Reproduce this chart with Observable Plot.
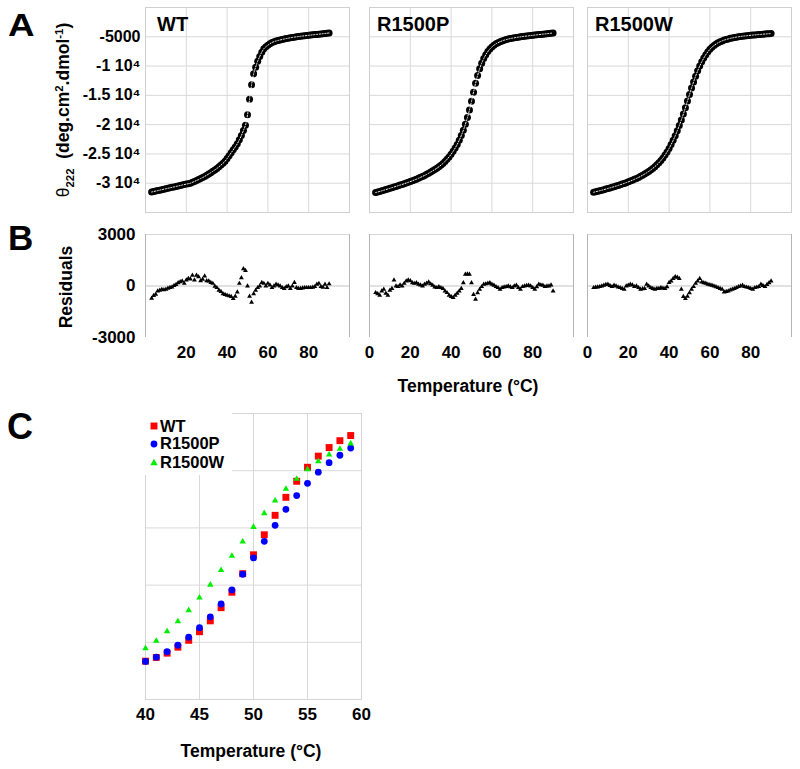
<!DOCTYPE html>
<html><head><meta charset="utf-8">
<script src="https://cdn.jsdelivr.net/npm/d3@7"></script>
<script src="https://cdn.jsdelivr.net/npm/@observablehq/plot@0.6"></script>
<style>
body{margin:0;background:#fff;font-family:"Liberation Sans",Arial,sans-serif;}
#wrap{position:relative;width:800px;height:769px;overflow:hidden;background:#fff}
.t{position:absolute;font-weight:bold;color:#000;white-space:nowrap;line-height:1}
svg text{font-weight:bold}
</style></head><body><div id="wrap"></div>
<script>
// ---------- DATA ----------
const panelNames = ["WT", "R1500P", "R1500W"];
const temps = [3,4,5,6,7,8,9,10,11,12,13,14,15,16,17,18,19,20,21,22,23,24,25,26,27,28,29,30,31,32,33,34,35,36,37,38,39,40,41,42,43,44,45,46,47,48,49,50,51,52,53,54,55,56,57,58,59,60,61,62,63,64,65,66,67,68,69,70,71,72,73,74,75,76,77,78,79,80,81,82,83,84,85,86,87,88,89,90];

// theta222 (deg.cm2.dmol-1), panel A
const thetaWT = [
 -31500,-31420,-31340,-31260,-31180,-31100,-31020,-30950,-30870,-30790,
 -30710,-30630,-30550,-30470,-30390,-30310,-30230,-30150,-30080,-30000,
 -29850,-29700,-29540,-29380,-29210,-29030,-28840,-28640,-28420,-28200,
 -27970,-27730,-27480,-27200,-26900,-26600,-26250,-25800,-25300,-24800,
 -24300,-23800,-23270,-22600,-21850,-21000,-20090,-18320,-15650,-13200,
 -11320,-10190,-9160,-8360,-7620,-7050,-6700,-6430,-6180,-5975,
 -5830,-5720,-5630,-5540,-5460,-5380,-5310,-5230,-5170,-5110,
 -5060,-5010,-4960,-4910,-4870,-4830,-4790,-4750,-4710,-4670,
 -4630,-4590,-4550,-4510,-4470,-4430,-4390,-4350];
const thetaP = [
 -31600,-31500,-31400,-31300,-31200,-31090,-30980,-30870,-30760,-30650,
 -30540,-30430,-30320,-30210,-30090,-29970,-29850,-29720,-29590,-29450,
 -29310,-29160,-29000,-28840,-28670,-28490,-28300,-28100,-27890,-27670,
 -27440,-27190,-26920,-26620,-26290,-25920,-25510,-25060,-24560,-24000,
 -23370,-22660,-21860,-20960,-19940,-18800,-17500,-16000,-14450,-12950,
 -11600,-10450,-9500,-8720,-8070,-7530,-7090,-6730,-6440,-6200,
 -6000,-5840,-5700,-5580,-5480,-5390,-5310,-5240,-5180,-5120,
 -5060,-5010,-4960,-4910,-4870,-4830,-4790,-4750,-4710,-4670,
 -4630,-4590,-4550,-4510,-4470,-4430,-4390,-4350];
const thetaW = [
 -31550,-31460,-31370,-31280,-31190,-31100,-31000,-30900,-30800,-30700,
 -30600,-30490,-30380,-30270,-30150,-30030,-29900,-29770,-29630,-29490,
 -29340,-29180,-29010,-28830,-28640,-28440,-28220,-27990,-27740,-27470,
 -27180,-26860,-26510,-26120,-25690,-25200,-24660,-24060,-23400,-22680,
 -21900,-21060,-20160,-19200,-18180,-17100,-15980,-14850,-13750,-12700,
 -11720,-10820,-10000,-9270,-8620,-8050,-7560,-7140,-6790,-6490,
 -6240,-6030,-5850,-5700,-5570,-5460,-5360,-5270,-5190,-5120,
 -5060,-5000,-4950,-4900,-4860,-4820,-4780,-4740,-4710,-4680,
 -4650,-4620,-4590,-4560,-4530,-4500,-4480,-4460];

// residuals, panel B
const resWT = [
 -720,-560,-480,-300,-250,-200,-220,-190,-140,-90,
 -60,20,80,190,240,290,150,350,430,400,
 620,350,620,540,300,390,580,300,290,200,
 150,-20,-100,-250,-330,-450,-500,-540,-580,-620,
 -740,-600,-350,150,480,1000,900,0,-600,-950,
 -450,-250,-100,0,200,150,0,150,50,-100,
 0,100,50,0,-100,-150,-50,0,-150,0,
 200,-100,-150,-150,-120,-100,-100,-100,-100,-80,
 -40,100,150,-40,-80,100,-100,120];
const resP = [
 -390,-450,-540,-300,-190,-430,-540,-250,-155,350,
 0,-40,60,0,150,290,350,300,190,150,
 190,100,50,0,100,155,230,120,40,-60,
 -100,-40,-100,-155,-300,-390,-540,-620,-680,-540,
 -430,-300,-155,190,680,700,680,190,-500,-780,
 -400,-200,-40,100,120,155,190,100,40,-40,
 -100,-190,-100,-60,-40,0,-50,-100,0,40,
 -100,-190,-40,0,20,40,0,-100,-190,-50,
 100,60,40,-40,0,0,50,-290];
const resW = [
 -100,-80,-60,-40,0,40,80,100,20,-40,
 40,0,-60,-100,-150,-190,0,40,100,50,
 -40,0,-100,-190,-170,-155,100,0,-100,-150,
 -190,-155,-150,-100,-130,-155,-50,200,290,430,
 540,500,430,-190,-620,-740,-600,-400,-190,-40,
 150,290,430,230,180,155,100,70,40,0,
 -50,-100,-150,-190,-350,-320,-290,-240,-190,-150,
 -100,-40,0,40,-40,-70,-100,-150,-190,-100,
 -70,-40,100,30,-40,80,190,290];

// panel C (40-60 °C zoom, unlabeled y axis)
const tempsC = [40,41,42,43,44,45,46,47,48,49,50,51,52,53,54,55,56,57,58,59];
const cWT = [0.134,0.147,0.162,0.183,0.207,0.237,0.275,0.321,0.375,0.440,0.506,0.576,0.644,0.707,0.763,0.812,0.851,0.881,0.905,0.923];
const cP  = [0.133,0.148,0.167,0.190,0.218,0.251,0.289,0.334,0.383,0.438,0.495,0.553,0.609,0.665,0.713,0.756,0.795,0.828,0.854,0.879];
const cW  = [0.179,0.205,0.238,0.273,0.312,0.356,0.401,0.452,0.502,0.552,0.603,0.651,0.695,0.736,0.771,0.805,0.833,0.856,0.876,0.895];

const thetaTicks = [-5000,-10000,-15000,-20000,-25000,-30000];
const resTicks = [-3000,0,3000];
const tempTicksFirst = [20,40,60,80];
const tempTicks = [0,20,40,60,80];
const cTicks = [40,45,50,55,60];

// ---------- DRAW ----------
const wrap = document.getElementById("wrap");
const FONT = '"Liberation Sans", Arial, sans-serif';
const baseStyle = {background:"transparent", overflow:"visible", fontFamily:FONT, color:"#000"};
function place(el, left, top){ el.style.position="absolute"; el.style.left=left+"px"; el.style.top=top+"px"; wrap.appendChild(el); return el; }
function text(html, left, top, size, extra=""){
  const d=document.createElement("div"); d.className="t"; d.innerHTML=html;
  d.style.cssText += `left:${left}px;top:${top}px;font-size:${size}px;${extra}`;
  wrap.appendChild(d); return d;
}
const thetaFmt = v => v === -5000 ? "-5000" : `${v/10000} 10\u2074`;

const thetas = [thetaWT, thetaP, thetaW];
const resids = [resWT, resP, resW];
const frameLeft = [145, 369, 587];
const grid = "#d9d9d9";

panelNames.forEach((name, i) => {
  const dataA = temps.map((t, k) => ({t, v: thetas[i][k]}));
  const dataB = temps.map((t, k) => ({t, r: resids[i][k]}));
  const mL = i === 0 ? 145 : 1;
  // Panel A
  const a = Plot.plot({
    width: mL + 204 + 3, height: 222,
    marginLeft: mL, marginRight: 3, marginTop: 7, marginBottom: 10,
    style: baseStyle,
    x: {domain: [0, 100], axis: null},
    y: i === 0 ? {domain: [-35000, 0]} : {domain: [-35000, 0], axis: null},
    marks: [
      Plot.gridX({ticks: [20,40,60,80], stroke: grid, strokeOpacity: 1}),
      Plot.gridY({ticks: thetaTicks, stroke: grid, strokeOpacity: 1}),
      Plot.frame({stroke: "#d0d0d0"}),
      ...(i === 0 ? [Plot.axisY({ticks: thetaTicks, tickFormat: thetaFmt, tickSize: 0, tickPadding: 5, fontSize: 16, label: null})] : []),
      Plot.dot(dataA, {x: "t", y: "v", r: 3.5, fill: "#000", stroke: "none"}),
      Plot.line(dataA, {x: "t", y: "v", stroke: "#fff", strokeWidth: 1, strokeDasharray: "1.2,1.6", curve: "catmull-rom"})
    ]
  });
  place(a, frameLeft[i] - mL, 0);
  text(name, frameLeft[i] + (i === 0 ? 12 : 8), 14, 20);

  // Panel B
  const b = Plot.plot({
    width: mL + 204 + 3, height: 10 + 103 + 30,
    marginLeft: mL, marginRight: 3, marginTop: 10, marginBottom: 30,
    style: baseStyle,
    x: {domain: [0, 100], axis: null},
    y: i === 0 ? {domain: [-3000, 3000]} : {domain: [-3000, 3000], axis: null},
    marks: [
      Plot.ruleY([3000], {stroke: "#d8d8d8"}),
      Plot.ruleY([0], {stroke: "#c4c4c4"}),
      Plot.ruleX([0, 100], {stroke: "#b4b4b4"}),
      Plot.axisX({ticks: i === 0 ? tempTicksFirst : tempTicks, tickSize: 0, tickPadding: 8, fontSize: 17, label: null}),
      ...(i === 0 ? [Plot.axisY({ticks: resTicks, tickFormat: d => String(d), tickSize: 0, tickPadding: 10, fontSize: 17, label: null})] : []),
      Plot.dot(dataB, {x: "t", y: "r", symbol: "triangle", r: 1.8, fill: "#000", stroke: "none"})
    ]
  });
  place(b, frameLeft[i] - mL, 234 - 10);
});

// Panel C
const seriesC = [
  {name: "WT", vals: cWT, symbol: "square", r: 3.9, fill: "#ff0000"},
  {name: "R1500P", vals: cP, symbol: "circle", r: 3.4, fill: "#0000ff"},
  {name: "R1500W", vals: cW, symbol: "triangle", r: 2.4, fill: "#00ee00"}
];
const c = Plot.plot({
  width: 145 + 216 + 12, height: 13 + 286 + 32,
  marginLeft: 145, marginRight: 12, marginTop: 13, marginBottom: 32,
  style: baseStyle,
  x: {domain: [40, 60], axis: null},
  y: {domain: [0, 1], axis: null},
  marks: [
    Plot.gridX({ticks: [45, 50, 55], stroke: grid, strokeOpacity: 1}),
    Plot.gridY({ticks: [0.2, 0.4, 0.6, 0.8], stroke: grid, strokeOpacity: 1}),
    Plot.frame({stroke: "#d4d4d4"}),
    Plot.axisX({ticks: cTicks, tickSize: 0, tickPadding: 8, fontSize: 17, label: null}),
    ...seriesC.map(s => Plot.dot(tempsC.map((t, k) => ({t, v: s.vals[k]})), {x: "t", y: "v", symbol: s.symbol, r: s.r, fill: s.fill, stroke: "none"}))
  ]
});
place(c, 0, 400);

// Legend for C
const lg = document.createElement("div");
lg.style.cssText = "position:absolute;left:140px;top:405px;width:92px;height:70px;background:#fff";
wrap.appendChild(lg);
const legY = [426, 443.5, 462.5];
seriesC.forEach((s, k) => {
  const ns = "http://www.w3.org/2000/svg";
  const sv = document.createElementNS(ns, "svg");
  sv.setAttribute("width", 12); sv.setAttribute("height", 12);
  const g = document.createElementNS(ns, "path");
  g.setAttribute("d", d3.symbol(s.symbol === "square" ? d3.symbolSquare : s.symbol === "circle" ? d3.symbolCircle : d3.symbolTriangle, Math.PI * s.r * s.r * (s.symbol==="triangle"?1.3:1))());
  g.setAttribute("transform", "translate(6,6)");
  g.setAttribute("fill", s.fill);
  sv.appendChild(g);
  place(sv, 148, legY[k] - 6);
  text(s.name, 160, legY[k] - 0.49 * 16.5, 16.5);
});

// Titles and labels
text("A", 8, 8.5, 32, "transform:scaleX(1.15);transform-origin:left top");
text("B", 8, 220, 35);
text("C", 7, 409, 36);
text("Temperature (\u00B0C)", 468, 387 - 0.49 * 17.5, 17.5, "transform:translateX(-50%)");
text("Temperature (\u00B0C)", 251, 752 - 0.49 * 17.5, 17.5, "transform:translateX(-50%)");
text('<span style="font-weight:normal">\u03B8</span><sub style="font-size:0.65em">222</sub>&nbsp; (deg.cm<sup style="font-size:0.65em">2</sup>.dmol<sup style="font-size:0.65em">-1</sup>)',
     65, 110, 17.5, "transform:translate(-50%,-50%) rotate(-90deg);transform-origin:center");
text("Residuals", 67, 287, 17.5, "transform:translate(-50%,-50%) rotate(-90deg);transform-origin:center");
</script></body></html>
